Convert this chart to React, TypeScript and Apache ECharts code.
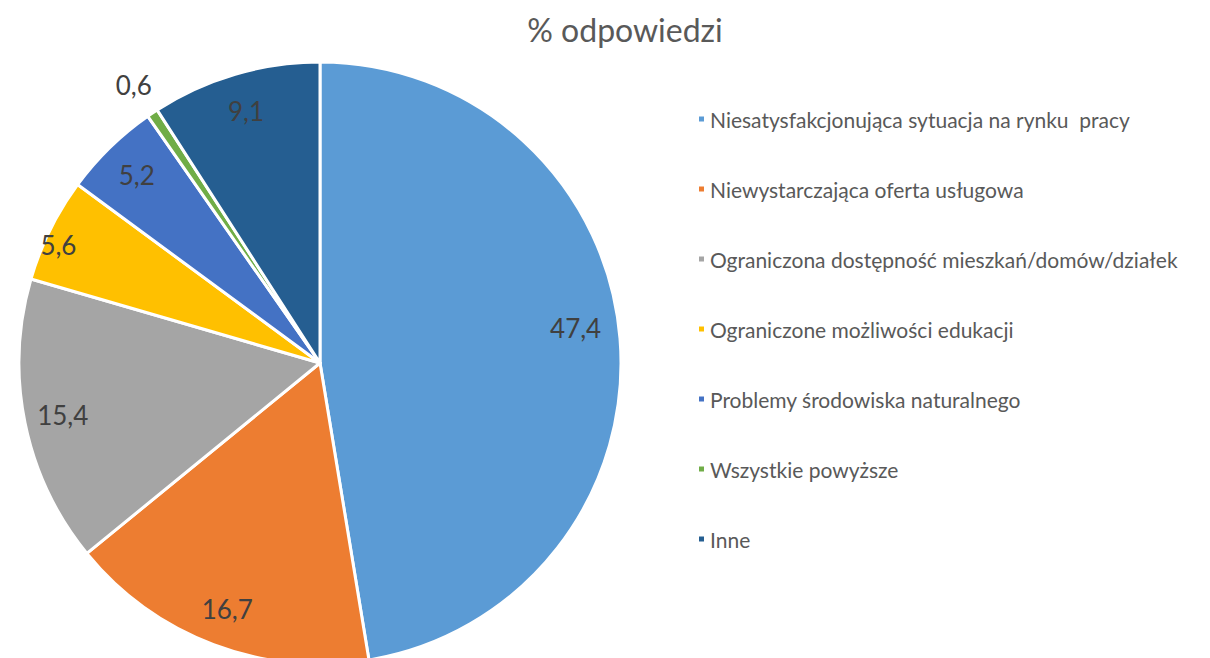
import React, { useEffect, useRef } from "react";
import * as echarts from "echarts";

const categories = [
  "Niesatysfakcjonująca sytuacja na rynku  pracy",
  "Niewystarczająca oferta usługowa",
  "Ograniczona dostępność mieszkań/domów/działek",
  "Ograniczone możliwości edukacji",
  "Problemy środowiska naturalnego",
  "Wszystkie powyższe",
  "Inne",
];
const values = [47.4, 16.7, 15.4, 5.6, 5.2, 0.6, 9.1];
const colors = ["#5B9BD5", "#ED7D31", "#A5A5A5", "#FFC000", "#4472C4", "#70AD47", "#255E91"];
const titleText = "% odpowiedzi";

const CENTER: [number, number] = [320, 363];
const R = 301;
const FONT = "Lato, 'Open Sans', sans-serif";
const labelOffsets: Record<number, [number, number]> = { 0: [-6, -14], 3: [-2, 10] };

const fmt = (v: number) => v.toFixed(1).replace(".", ",");

function labelRing(inner: number, outer: number, show: number[], name: string) {
  return {
    type: "pie",
    name,
    center: CENTER,
    radius: [inner, outer],
    startAngle: 90,
    clockwise: true,
    silent: true,
    avoidLabelOverlap: false,
    itemStyle: { color: "rgba(0,0,0,0)", borderWidth: 0 },
    labelLine: { show: false },
    emphasis: { disabled: true },
    data: categories.map((c, i) => ({
      name: c,
      value: values[i],
      label: {
        show: show.includes(i),
        position: "inside",
        formatter: () => fmt(values[i]),
        color: "#404040",
        fontSize: 26,
        fontFamily: FONT,
        offset: labelOffsets[i] || [0, 0],
      },
    })),
  };
}

export default function App() {
  const ref = useRef<HTMLDivElement>(null);
  useEffect(() => {
    if (!ref.current) return;
    const chart = echarts.init(ref.current, null, { renderer: "svg" });
    chart.setOption({
      animation: false,
      backgroundColor: "#ffffff",
      title: {
        text: titleText,
        left: 620,
        top: 8,
        textAlign: "center",
        textStyle: { color: "#595959", fontSize: 32, fontWeight: "normal", fontFamily: FONT },
      },
      legend: {
        orient: "vertical",
        left: 692,
        top: 102,
        itemWidth: 7,
        itemHeight: 7,
        itemGap: 46,
        icon: "rect",
        selectedMode: false,
        textStyle: { color: "#595959", fontSize: 21, lineHeight: 24, fontFamily: FONT },
        data: categories,
      },
      series: [
        {
          type: "pie",
          name: "main",
          center: CENTER,
          radius: [0, R],
          startAngle: 90,
          clockwise: true,
          avoidLabelOverlap: false,
          label: { show: false },
          labelLine: { show: false },
          itemStyle: { borderColor: "#ffffff", borderWidth: 3 },
          data: categories.map((c, i) => ({
            name: c,
            value: values[i],
            itemStyle: { color: colors[i] },
          })),
        },
        labelRing(218, R, [0, 1, 2, 4, 6], "l1"),
        labelRing(272, R, [3], "l2"),
        labelRing(R, 362, [5], "l3"),
      ],
    });
    return () => chart.dispose();
  }, []);
  return (
    <div
      ref={ref}
      style={{ position: "absolute", left: 0, top: 0, width: 1210, height: 658 }}
    />
  );
}
